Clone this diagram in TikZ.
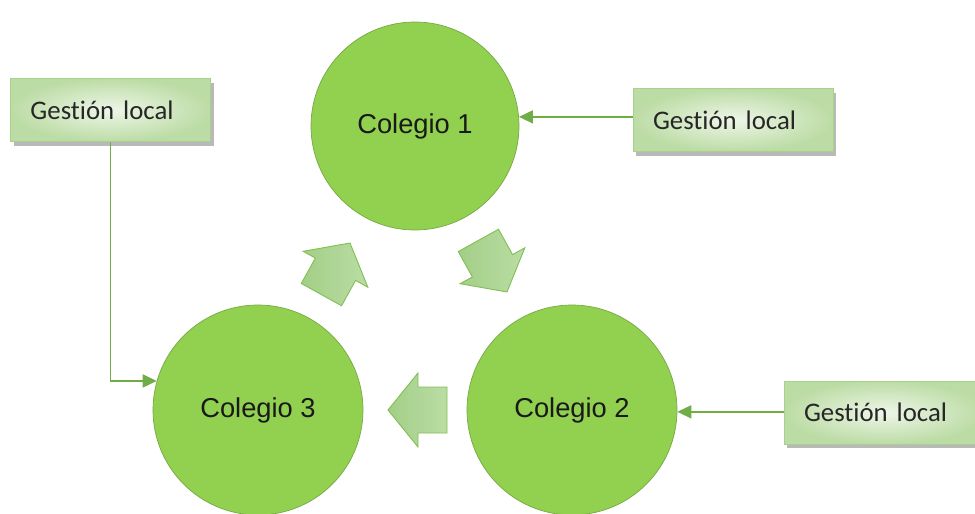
\documentclass[tikz,border=0pt]{standalone}
\usepackage{fontspec}
\newfontfamily\circfont{Liberation Sans}
\newfontfamily\boxfont[Ligatures={NoCommon}, WordSpace=0.75]{Carlito}
\usetikzlibrary{shadows,arrows.meta}
\definecolor{circgreen}{HTML}{92D050}
\definecolor{circedge}{HTML}{76A844}
\definecolor{linkgreen}{HTML}{70AD47}
\definecolor{boxedge}{HTML}{A9D18E}
\definecolor{boxlight}{HTML}{EEF6E8}
\definecolor{boxdark}{HTML}{BCDCA5}
\definecolor{arrowfill}{HTML}{A3CE87}
\definecolor{arrowlight}{HTML}{BADDA4}
\definecolor{arrowedge}{HTML}{80BF52}

\tikzset{
  colegio/.style={circle, fill=circgreen, draw=circedge, line width=0.7pt,
    minimum size=208pt, inner sep=0pt,
    font=\circfont\fontsize{27.3}{30}\selectfont, text=black!90},
  gestion/.style={rectangle, draw=boxedge, line width=1pt,
    minimum width=200pt, minimum height=63pt, inner xsep=20pt,
    text width=160pt, align=left,
    inner color=boxlight, outer color=boxdark,
    font=\boxfont\fontsize{26.8}{30}\selectfont, text=black!85,
    drop shadow={shadow xshift=3pt, shadow yshift=-4pt, fill=black!50, opacity=0.55}},
  link/.style={draw=linkgreen, line width=1.6pt, -{Triangle[length=14pt,width=13pt]}},
  flow/.style={draw=arrowedge, line width=0.9pt, left color=arrowfill,
    right color=arrowlight, line join=miter},
}

\begin{document}
\begin{tikzpicture}[x=1pt,y=-1pt]
\useasboundingbox (0,0) rectangle (975,514);
\clip (0,0) rectangle (975,514);

% the three schools
\node[colegio] (c1) at (415,126) {Colegio 1};
\node[colegio, minimum size=210pt] (c3) at (258,410) {Colegio 3};
\node[colegio, minimum size=210pt] (c2) at (572,410) {Colegio 2};

% local management boxes
\node[gestion] (g1) at (110.5,110) {Gestión local};
\node[gestion] (g2) at (733,120) {Gestión local};
\node[gestion] (g3) at (884,412.5) {Gestión local};

% connectors from each box to its school
\draw[link] (g1.south) |- (c3.164);
\draw[link] (g2.west |- c1.5.5) -- (c1.5.5);
\draw[link] (g3.west |- c2.-1.5) -- (c2.-1.5);

% block arrows of the cycle
\begin{scope}[shift={(350,243)}, rotate=61]
  \path[flow] (0,0) -- (-30,37) -- (-30,23) -- (-59,23) -- (-59,-23) -- (-30,-23) -- (-30,-37) -- cycle;
\end{scope}
\begin{scope}[shift={(507,292)}, rotate=-61]
  \path[flow] (0,0) -- (-30,37) -- (-30,23) -- (-59,23) -- (-59,-23) -- (-30,-23) -- (-30,-37) -- cycle;
\end{scope}
\begin{scope}[shift={(388,410)}, rotate=180]
  \path[flow] (0,0) -- (-30,37) -- (-30,23) -- (-59,23) -- (-59,-23) -- (-30,-23) -- (-30,-37) -- cycle;
\end{scope}
\end{tikzpicture}
\end{document}
